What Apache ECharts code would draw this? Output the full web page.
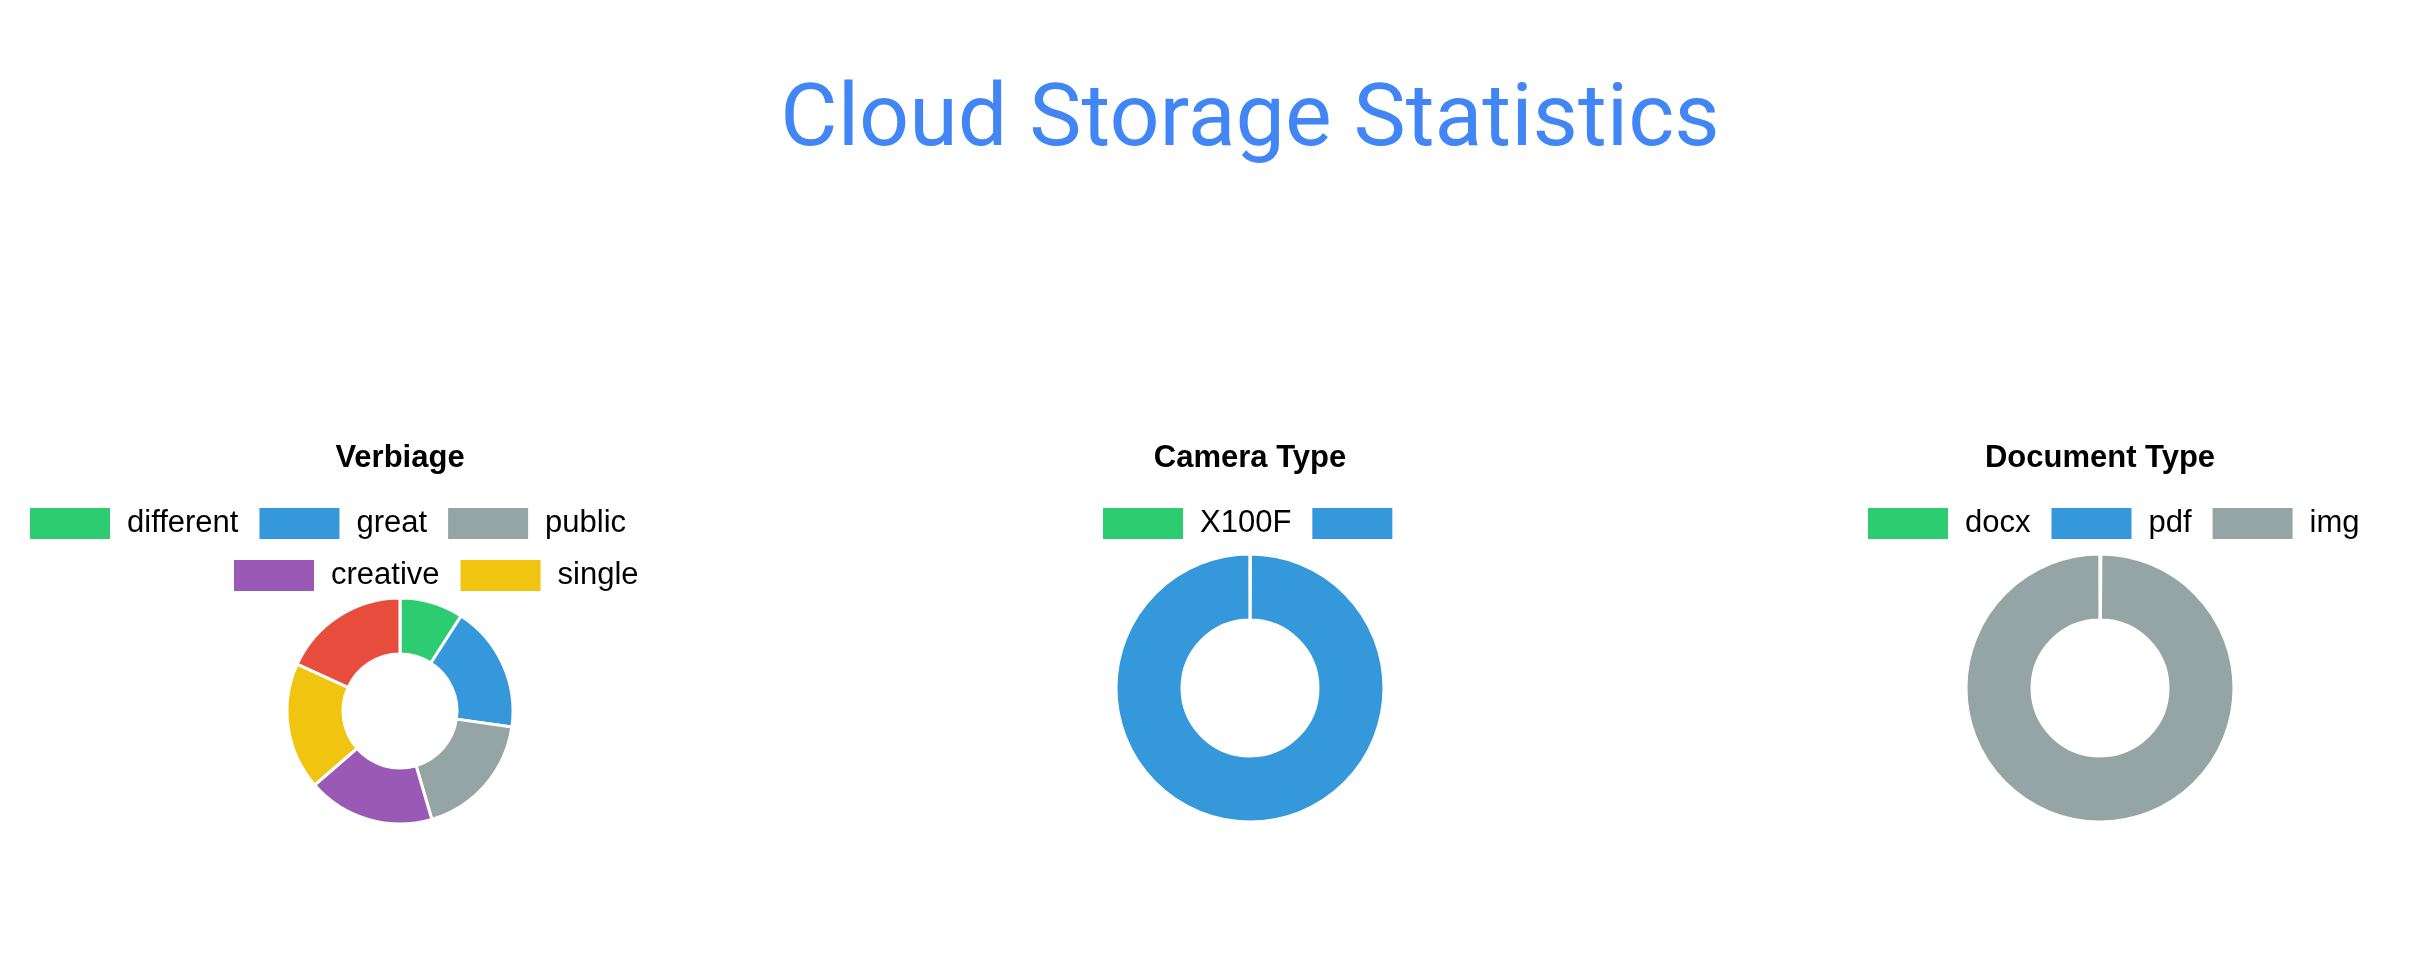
<!DOCTYPE html>
<html><head><meta charset="utf-8">
<script src="https://cdn.jsdelivr.net/npm/echarts@6/dist/echarts.min.js"></script>
<style>
html,body{margin:0;padding:0;background:#fff;overflow:hidden;width:2422px;height:958px;position:relative}
.c{position:absolute;top:0;height:958px}
</style></head><body>
<div id="main" class="c" style="left:0;width:2422px;height:300px"></div>
<div id="verb" class="c" style="left:0;width:800px"></div>
<div id="cam" class="c" style="left:950px;width:600px"></div>
<div id="doc" class="c" style="left:1800px;width:600px"></div>
<script>
// ---- data ----
const mainTitle = 'Cloud Storage Statistics';
const verbiageTitle = 'Verbiage';
const verbiageLabels = ['different', 'great', 'public', 'creative', 'single', ''];
const verbiageValues = [1, 2, 2, 2, 2, 2];
const cameraTitle = 'Camera Type';
const cameraLabels = ['X100F', ' '];
const cameraValues = [0, 1];
const documentTitle = 'Document Type';
const documentLabels = ['docx', 'pdf', 'img'];
const documentValues = [0, 0, 1];
const palette = ['#2ecc71', '#3498db', '#95a5a6', '#9b59b6', '#f1c40f', '#e74c3c'];

const FONT = 'Liberation Sans, Arial, Helvetica, sans-serif';

function legend(names, left, top) {
  return {
    data: names, left: left, top: top, orient: 'horizontal', padding: 0,
    itemWidth: 80, itemHeight: 31, itemGap: 21, icon: 'rect', selectedMode: false,
    itemStyle: { borderWidth: 0 },
    textStyle: { fontSize: 31, color: '#000', fontFamily: FONT, padding: [0, 0, 0, 12] }
  };
}
function pie(labels, values, center, radius, pad) {
  return {
    type: 'pie', radius: radius, center: center, startAngle: 90, clockwise: true,
    padAngle: pad,
    silent: true, label: { show: false }, labelLine: { show: false },
    itemStyle: { borderColor: '#fff', borderWidth: 3 },
    emphasis: { disabled: true },
    data: labels.map((n, i) => ({ name: n, value: values[i] }))
  };
}
function subTitle(t) {
  return { text: t, left: 'center', top: 443, padding: 0,
    textStyle: { fontSize: 31, fontWeight: 'bold', color: '#000', fontFamily: FONT } };
}

echarts.init(document.getElementById('main')).setOption({
  animation: false,
  graphic: [{ type: 'text', x: 1250, y: 123,
    style: { text: mainTitle, fill: '#4285f4', fontSize: 88, fontFamily: 'Roboto', align: 'center', verticalAlign: 'middle' } }]
});

echarts.init(document.getElementById('verb')).setOption({
  animation: false, color: palette,
  title: subTitle(verbiageTitle),
  legend: [legend(verbiageLabels.slice(0, 3), 30, 508), legend(verbiageLabels.slice(3, 5), 234, 560)],
  series: [pie(verbiageLabels, verbiageValues, [400, 711], [57, 113], 0)]
});

echarts.init(document.getElementById('cam')).setOption({
  animation: false, color: palette,
  title: subTitle(cameraTitle),
  legend: [legend(cameraLabels, 153, 508)],
  series: [pie(cameraLabels, cameraValues, [300, 688], [68, 134], 0.15)]
});

echarts.init(document.getElementById('doc')).setOption({
  animation: false, color: palette,
  title: subTitle(documentTitle),
  legend: [legend(documentLabels, 68, 508)],
  series: [pie(documentLabels, documentValues, [300, 688], [68, 134], 0.15)]
});
</script>
</body></html>
